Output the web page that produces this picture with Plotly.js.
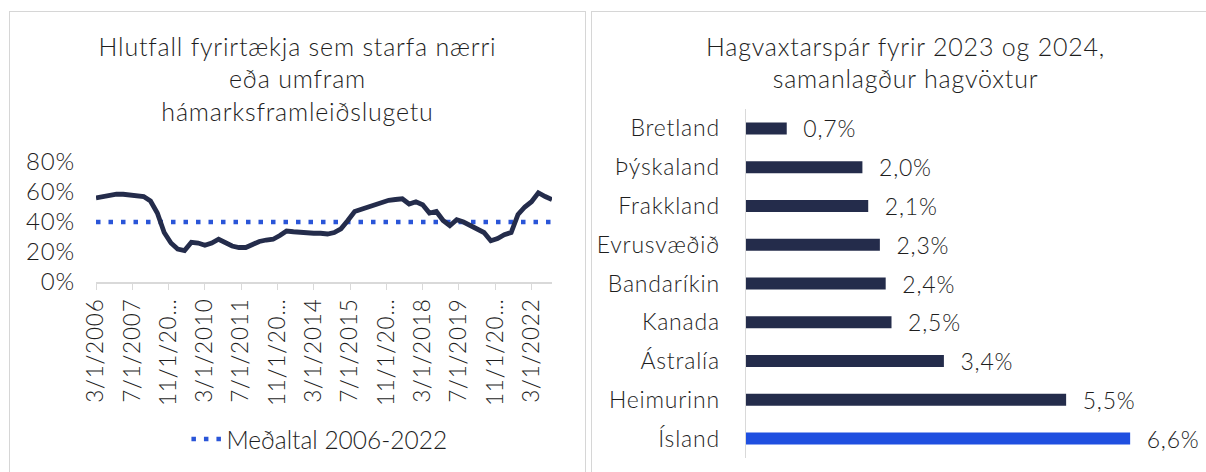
<!DOCTYPE html>
<html><head><meta charset="utf-8">
<script src="https://cdn.plot.ly/plotly-3.0.1.min.js"></script>
<style>
html,body{margin:0;padding:0;background:#fff;width:1206px;height:472px;overflow:hidden;}
.panel{position:absolute;border:1.5px solid #d6d6d6;background:#fff;box-sizing:content-box;}
#left{left:9px;top:11px;width:575px;height:470px;}
#right{left:591px;top:11px;width:640px;height:470px;}
.main-svg text{letter-spacing:0.8px;}
.main-svg text.legendtext{letter-spacing:0;}
</style></head><body>
<div id="left" class="panel"><div id="c1"></div></div>
<div id="right" class="panel"><div id="c2"></div></div>
<script>
// ---------- Left chart data ----------
const startYear = 2006, startMonth = 3, nQuarters = 68; // quarterly, 3/2006 .. 12/2022
const capacityShare = [56,57,58,58.5,58.5,58,58,57,54,46,33,26,22,21,26.5,26,24.5,26,28.5,26,
  24,23,23,25,27,28,28.5,31,34,33.5,33,33,32.5,32.5,32,33,35.5,41,47,48.5,
  50,51.5,53.5,54.5,55,55.5,52,53.5,51.5,46,47,41,37.5,41.5,40,37.5,35.5,33,27.5,29,
  31.5,33,45,50,53.5,59.5,57,55];
const averageValue = 40;
const averageName = 'Meðaltal 2006-2022';
const yTickVals = [0, 20, 40, 60, 80];
const yTickText = ['0%', '20%', '40%', '60%', '80%'];
const tickDates = ['2006-03-01','2007-07-01','2008-11-01','2010-03-01','2011-07-01','2012-11-01',
  '2014-03-01','2015-07-01','2016-11-01','2018-03-01','2019-07-01','2020-11-01','2022-03-01'];
const tickLabels = ['3/1/2006','7/1/2007','11/1/20…','3/1/2010','7/1/2011','11/1/20…',
  '3/1/2014','7/1/2015','11/1/20…','3/1/2018','7/1/2019','11/1/20…','3/1/2022'];
const leftTitle = 'Hlutfall fyrirtækja sem starfa nærri<br>eða umfram<br>hámarksframleiðslugetu';

// ---------- Right chart data ----------
const countries = ['Bretland','Þýskaland','Frakkland','Evrusvæðið','Bandaríkin','Kanada','Ástralía','Heimurinn','Ísland'];
const growth = [0.7,2.0,2.1,2.3,2.4,2.5,3.4,5.5,6.6];
const highlightCountry = 'Ísland';
const rightTitle = 'Hagvaxtarspár fyrir 2023 og 2024,<br>samanlagður hagvöxtur';

// ---------- build ----------
const dates = [];
for (let i = 0; i < nQuarters; i++) {
  const m = startMonth - 1 + 3 * i;
  const y = startYear + Math.floor(m / 12);
  const mm = (m % 12) + 1;
  dates.push(y + '-' + String(mm).padStart(2, '0') + '-01');
}
const FONT = 'Lato, "Open Sans", sans-serif';
const TXT = '#1e1e1e';
const NAVY = '#242c4b';
const BLUE = '#2a55d8';

const t1 = {x: dates, y: capacityShare, type: 'scatter', mode: 'lines',
  line: {color: NAVY, width: 4.8}, showlegend: false, hoverinfo: 'skip'};
const t2 = {x: [dates[0], dates[dates.length - 1]], y: [averageValue, averageValue],
  type: 'scatter', mode: 'lines', name: averageName,
  line: {color: BLUE, width: 4.5, dash: '4.5px,8px'}};

Plotly.newPlot('c1', [t2, t1], {
  width: 575, height: 460,
  margin: {l: 86, r: 33, t: 150, b: 189},
  paper_bgcolor: '#fff', plot_bgcolor: '#fff',
  font: {family: FONT, size: 24, color: TXT, weight: 300},
  title: {text: leftTitle, x: 0.5, xanchor: 'center', xref: 'container',
    y: 0.905, yref: 'container', yanchor: 'top', font: {size: 25, color: TXT, weight: 300}},
  xaxis: {type: 'date', range: [dates[0], dates[dates.length - 1]], tickmode: 'array',
    tickvals: tickDates, ticktext: tickLabels, tickangle: -90, showgrid: false,
    showline: true, linecolor: '#d9d9d9', linewidth: 1.5, ticks: 'outside', ticklen: 6,
    tickcolor: '#d9d9d9', zeroline: false, tickfont: {size: 22.5, weight: 300}},
  yaxis: {range: [0, 80], tickmode: 'array', tickvals: yTickVals, ticktext: yTickText,
    showgrid: false, zeroline: false, showline: false, ticklabelstandoff: 20,
    tickfont: {size: 24, weight: 300}},
  showlegend: true,
  legend: {orientation: 'h', x: 0.49, xanchor: 'center', y: -1.29, yanchor: 'middle',
    font: {size: 24.5, weight: 300}}
}, {staticPlot: true});

const labels = growth.map(v => '\u2002\u2009' + v.toFixed(1).replace('.', ',') + '%');
const colors = countries.map(c => c === highlightCountry ? '#1f4fe0' : NAVY);
Plotly.newPlot('c2', [{
  type: 'bar', orientation: 'h', x: growth, y: countries, width: 0.31,
  marker: {color: colors}, text: labels, textposition: 'outside', cliponaxis: false,
  constraintext: 'none',
  textfont: {size: 23, color: TXT, weight: 300}, hoverinfo: 'skip'
}], {
  width: 640, height: 460,
  margin: {l: 154, r: 32, t: 97, b: 14},
  paper_bgcolor: '#fff', plot_bgcolor: '#fff',
  font: {family: FONT, size: 23, color: TXT, weight: 300},
  title: {text: rightTitle, x: 0.49, xanchor: 'center', xref: 'container',
    y: 0.905, yref: 'container', yanchor: 'top', font: {size: 25, color: TXT, weight: 300}},
  xaxis: {range: [0, 7.8], visible: false, fixedrange: true},
  yaxis: {type: 'category', autorange: 'reversed', showline: true, linecolor: '#d9d9d9',
    linewidth: 1.5, ticks: '', showgrid: false, zeroline: false, ticklabelstandoff: 20,
    tickfont: {size: 23, weight: 300}},
  showlegend: false
}, {staticPlot: true});
</script>
</body></html>
